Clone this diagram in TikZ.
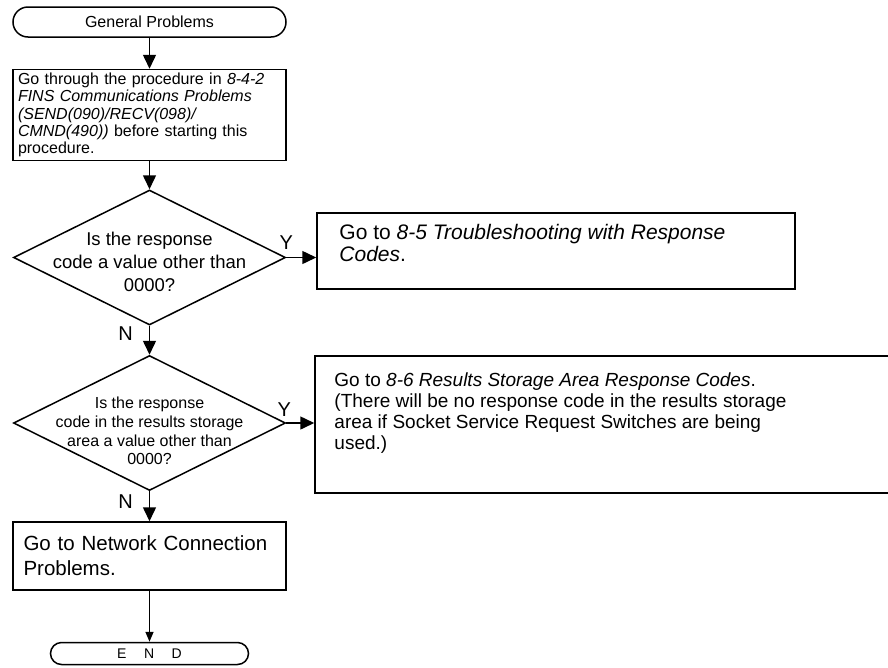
\documentclass[tikz,border=0pt]{standalone}
\usepackage{fontspec}
\setmainfont{Liberation Sans}
\usetikzlibrary{shapes.geometric, arrows.meta, positioning}

\begin{document}
\begin{tikzpicture}[
    x=1pt, y=1pt,
    term/.style={rectangle, rounded corners=15pt, draw, line width=1.5pt, minimum width=273pt, minimum height=30pt, inner sep=0pt, font=\fontsize{16}{18}\selectfont},
    box/.style={rectangle, draw, line width=1.5pt, minimum width=273pt, inner sep=0pt, align=left},
    decision/.style={diamond, draw, line width=1.5pt, minimum width=272pt, minimum height=135pt, inner sep=0pt},
    dtext/.style={inner sep=0pt, align=center},
    sidebox/.style={rectangle, draw, line width=1.5pt, inner sep=0pt, anchor=north west},
    sidetext/.style={inner sep=0pt, anchor=north west, align=left},
    yn/.style={inner sep=0pt, font=\fontsize{20}{20}\selectfont},
    arr/.style={-{Triangle[length=14pt,width=13pt]}, line width=1.5pt},
  ]
  \useasboundingbox (0,0) rectangle (888,-667);

  % Main column
  \node[term] (start) at (149.5,-22) {General Problems};
  \node[box, below=31pt of start, text width=263pt, minimum height=91pt, font=\fontsize{16}{17.3}\selectfont] (prep)
    {Go through the procedure in \textit{8-4-2}\\ \textit{FINS Communications Problems}\\ \textit{(SEND(090)/RECV(098)/}\\ \textit{CMND(490))} before starting this\\ procedure.};
  \node[decision, below=28pt of prep] (resp) {};
  \node[dtext, font=\fontsize{18.5}{23}\selectfont] at ([yshift=-4pt]resp.center)
    {Is the response\\ code a value other than\\ 0000?};
  \node[decision, below=29pt of resp] (store) {};
  \node[dtext, font=\fontsize{16}{18.7}\selectfont] at ([yshift=-8pt]store.center)
    {Is the response\\ code in the results storage\\ area a value other than\\ 0000?};
  \node[box, below=30pt of store, text width=252pt, minimum height=68pt, font=\fontsize{20.5}{25}\selectfont] (netw)
    {Go to Network Connection\\ Problems.};
  \node[term, below=51pt of netw, minimum width=198pt, minimum height=22pt, rounded corners=11pt, font=\fontsize{14}{16}\selectfont] (fin)
    {E\hspace{1.25em}N\hspace{1.25em}D};

  % Y branches
  \node[sidebox, minimum width=478pt, minimum height=76pt] (gocodes) at ([xshift=30pt, yshift=45.5pt]resp.east) {};
  \node[sidetext, font=\fontsize{21}{22}\selectfont] at ([xshift=23pt, yshift=-12.5pt]gocodes.north west)
    {Go to \textit{8-5 Troubleshooting with Response}\\ \textit{Codes}.};
  \node[sidebox, minimum width=580pt, minimum height=137pt] (gostore) at ([xshift=28pt, yshift=68pt]store.east) {};
  \node[sidetext, font=\fontsize{19}{21}\selectfont] at ([xshift=20pt, yshift=-18pt]gostore.north west)
    {Go to \textit{8-6 Results Storage Area Response Codes}.\\ (There will be no response code in the results storage\\ area if Socket Service Request Switches are being\\ used.)};

  % Connectors
  \draw[arr] (start.south) -- (prep.north);
  \draw[arr] (prep.south) -- (resp.north);
  \draw[arr] (resp.south) -- (store.north);
  \draw[arr] (store.south) -- (netw.north);
  \draw[-{Triangle[length=10pt,width=8pt]}, line width=1.5pt] (netw.south) -- (fin.north);
  \draw[arr] (resp.east) -- (resp.east -| gocodes.west);
  \draw[arr] (store.east) -- (store.east -| gostore.west);

  % Y / N labels
  \node[yn] at ([yshift=15pt]resp.east) {Y};
  \node[yn] at ([xshift=-2pt, yshift=13pt]store.east) {Y};
  \node[yn] at ([xshift=-24pt, yshift=-8pt]resp.south) {N};
  \node[yn] at ([xshift=-24pt, yshift=-10pt]store.south) {N};
\end{tikzpicture}
\end{document}
